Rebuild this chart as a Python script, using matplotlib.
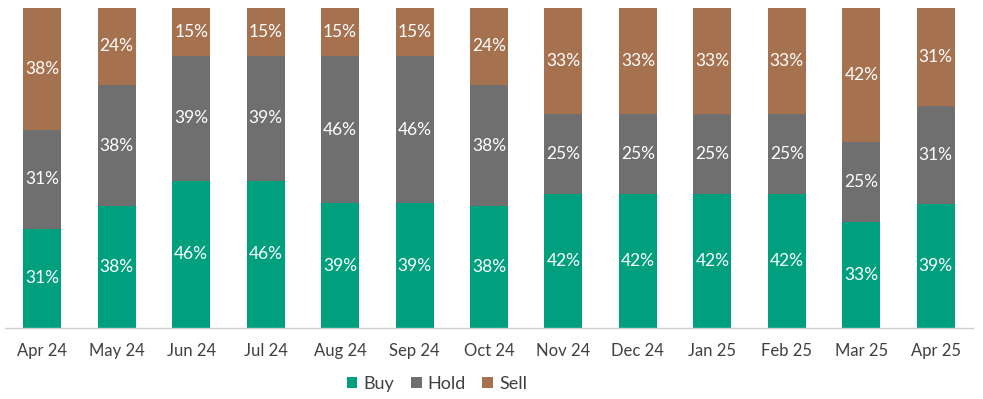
import matplotlib
matplotlib.use("Agg")
import matplotlib.pyplot as plt
import numpy as np

months = ["Apr 24", "May 24", "Jun 24", "Jul 24", "Aug 24", "Sep 24", "Oct 24",
          "Nov 24", "Dec 24", "Jan 25", "Feb 25", "Mar 25", "Apr 25"]
buy = [31, 38, 46, 46, 39, 39, 38, 42, 42, 42, 42, 33, 39]
hold = [31, 38, 39, 39, 46, 46, 38, 25, 25, 25, 25, 25, 31]
sell = [38, 24, 15, 15, 15, 15, 24, 33, 33, 33, 33, 42, 31]

series = [("Buy", buy, "#00A07F"), ("Hold", hold, "#6F6F6F"), ("Sell", sell, "#A6714F")]

plt.rcParams['font.family'] = ['Lato', 'DejaVu Sans']

fig = plt.figure(figsize=(9.83, 3.99), dpi=100)
W, H = 983, 399
ax = fig.add_axes([5 / W, 1 - 328 / H, (973 - 5) / W, (328 - 8) / H])

x = np.arange(len(months))
totals = np.array(buy) + np.array(hold) + np.array(sell)
bottom = np.zeros(len(months))
handles = []
for name, vals, col in series:
    v = np.array(vals, dtype=float)
    h = v / totals * 100
    b = ax.bar(x, h, bottom=bottom, width=0.51, color=col, label=name, zorder=2)
    handles.append(b)
    for xi, bi, hi, lab in zip(x, bottom, h, vals):
        ax.text(xi, bi + hi / 2, f"{lab}%", ha="center", va="center",
                color="white", fontsize=12.5)
    bottom += h

ax.set_xlim(-0.5, len(months) - 0.5)
ax.set_ylim(0, 100)
ax.set_yticks([])
ax.set_xticks(x)
ax.set_xticklabels(months, fontsize=12, color="#404040")
ax.tick_params(axis="x", length=0, pad=11)
for s in ["top", "right", "left"]:
    ax.spines[s].set_visible(False)
ax.spines["bottom"].set_color("#D0D0D0")
ax.spines["bottom"].set_linewidth(1)

fig.legend(handles=handles, labels=[s[0] for s in series], loc="center",
           bbox_to_anchor=(437 / W, 1 - 384 / H), ncol=3, frameon=False,
           fontsize=13, handlelength=0.6, handleheight=0.6, handletextpad=0.35,
           columnspacing=0.9, labelcolor="#404040")

fig.savefig("out.png", dpi=100)
